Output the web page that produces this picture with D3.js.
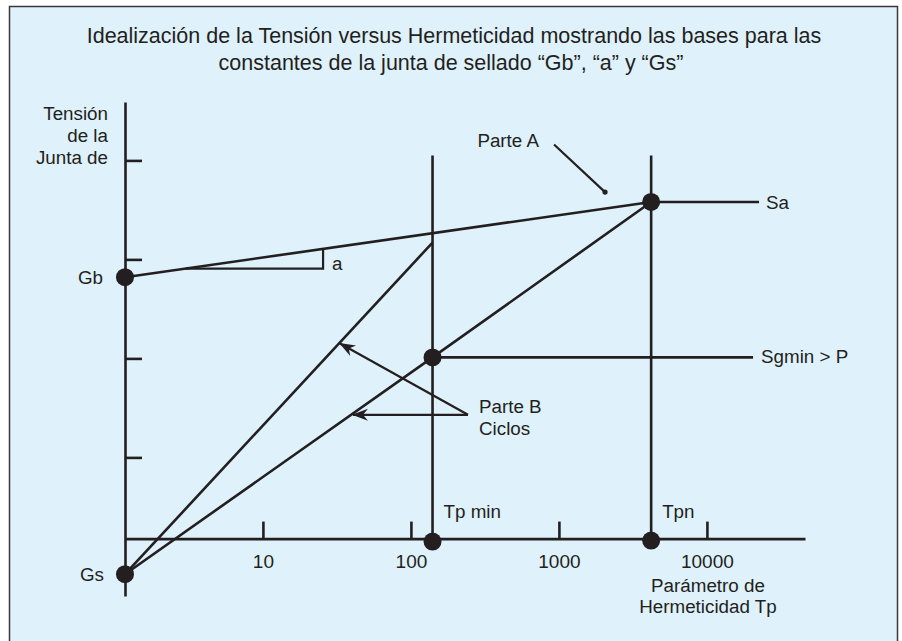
<!DOCTYPE html>
<html lang="es">
<head>
    <meta charset="UTF-8">
    <title>Tensión versus Hermeticidad</title>
    <script src="https://cdn.jsdelivr.net/npm/d3@7"></script>
    <style>
        body { margin: 0; background: #fff; }
        text { font-family: "Liberation Sans", Arial, sans-serif; fill: #231f20; }
    </style>
</head>
<body>
<script>
    // valores (Tp en escala log, tensión en unidades arbitrarias)
    const titleLines = ["Idealización de la Tensión versus Hermeticidad mostrando las bases para las",
        "constantes de la junta de sellado \u201cGb\u201d, \u201ca\u201d y \u201cGs\u201d"];
    const xTicks = [10, 100, 1000, 10000];
    const yTicks = [1, 2, 3, 4];
    const yLabel = ["Tensión", "de la", "Junta de"];
    const xLabel = ["Parámetro de", "Hermeticidad Tp"];

    const xMin = 1.17, xMax = 46000;
    const yMin = -0.4, yMax = 4.59;
    const axisY = 0.18;          // donde cruza el eje de Tp
    const tpMin = 140, tpn = 4200;
    const gb = 2.82, sa = 3.58, sgmin = 2.01, gs = -0.18;
    const vTop = 4.05;           // extremo superior de las verticales
    const saEnd = 22500, sgEnd = 20500;
    const cycleTop = [tpMin, 3.17];   // fin de la recta superior (Parte B)
    const slopeTri = [3, 25.5];       // triángulo de la pendiente "a"
    const parteA = [[927, 4.16], [2050, 3.68]];
    const arrowTail = [243, 1.43];
    const arrowTips = [[33.2, 2.15], [40.6, 1.43]];

    const W = 902, H = 641;
    const x = d3.scaleLog().domain([xMin, xMax]).range([125, 805]);
    const y = d3.scaleLinear().domain([yMin, yMax]).range([596, 102]);
    const ink = "#231f20";

    const svg = d3.select("body").append("svg")
        .attr("width", W).attr("height", H);

    svg.append("rect")
        .attr("x", 9.5).attr("y", 6.5)
        .attr("width", 888).attr("height", 640)
        .attr("fill", "#dff1fb")
        .attr("stroke", "#3a3a3a").attr("stroke-width", 1.5);

    svg.append("g")
        .attr("text-anchor", "middle")
        .attr("font-size", 21.5)
        .selectAll("text").data(titleLines).enter().append("text")
        .attr("x", (d, i) => i ? 451 : 454)
        .attr("y", (d, i) => 35 + i * 27)
        .attr("dy", "0.35em")
        .text(d => d);

    const defs = svg.append("defs");
    defs.append("marker")
        .attr("id", "head")
        .attr("viewBox", "-16 -7 18 14")
        .attr("markerWidth", 18).attr("markerHeight", 14)
        .attr("markerUnits", "userSpaceOnUse")
        .attr("orient", "auto")
        .append("path")
        .attr("d", "M1,0 L-15,-6 L-10,0 L-15,6 Z")
        .attr("fill", ink);

    // ejes
    const gx = svg.append("g")
        .attr("transform", `translate(0,${y(axisY)})`)
        .call(d3.axisBottom(x).tickValues(xTicks).tickFormat(d3.format("d"))
            .tickSizeInner(-17).tickSizeOuter(0).tickPadding(16));
    const gy = svg.append("g")
        .attr("transform", `translate(${x(xMin)},0)`)
        .call(d3.axisRight(y).tickValues(yTicks).tickFormat("")
            .tickSizeInner(17).tickSizeOuter(0));
    [gx, gy].forEach(g => {
        g.select(".domain").attr("stroke", ink).attr("stroke-width", 2.6);
        g.selectAll(".tick line").attr("stroke", ink).attr("stroke-width", 2.6);
    });
    gx.selectAll(".tick text").attr("font-size", 19).attr("fill", ink)
        .attr("font-family", "Liberation Sans, Arial, sans-serif");

    const line = d3.line().x(d => x(d[0])).y(d => y(d[1]));
    const lines = svg.append("g")
        .attr("fill", "none").attr("stroke", ink).attr("stroke-width", 2.6);

    const segs = [
        [[tpMin, axisY], [tpMin, vTop]],
        [[tpn, axisY], [tpn, vTop]],
        [[xMin, gb], [tpn, sa]],
        [[tpn, sa], [saEnd, sa]],
        [[tpMin, sgmin], [sgEnd, sgmin]],
        [[xMin, gs], [tpMin, sgmin], [tpn, sa]],
        [[xMin, gs], cycleTop]
    ];
    lines.selectAll("path.seg").data(segs).enter().append("path")
        .attr("class", "seg").attr("d", line);

    // triángulo de la pendiente, sobre la recta Gb–Sa
    const onGb = v => {
        const t = (x(v) - x(xMin)) / (x(tpn) - x(xMin));
        return y.invert(y(gb) + t * (y(sa) - y(gb)));
    };
    lines.append("path")
        .attr("stroke-width", 2.2)
        .attr("d", line([[slopeTri[0], onGb(slopeTri[0])], [slopeTri[1], onGb(slopeTri[0])], [slopeTri[1], onGb(slopeTri[1])]]));

    // indicador Parte A
    lines.append("path").attr("stroke-width", 2.2).attr("d", line(parteA));
    svg.append("circle")
        .attr("cx", x(parteA[1][0])).attr("cy", y(parteA[1][1]))
        .attr("r", 2.6).attr("fill", ink);

    // flechas Parte B
    lines.selectAll("path.arrow").data(arrowTips).enter().append("path")
        .attr("class", "arrow")
        .attr("stroke-width", 2.2)
        .attr("marker-end", "url(#head)")
        .attr("d", d => line([arrowTail, d]));

    const dots = [[xMin, gb], [tpn, sa], [tpMin, sgmin], [tpMin, axisY - 0.03], [tpn, axisY - 0.02], [xMin, gs]];
    svg.append("g").selectAll("circle").data(dots).enter().append("circle")
        .attr("cx", d => x(d[0])).attr("cy", d => y(d[1]))
        .attr("r", 9).attr("fill", ink);

    // textos
    const labels = [
        {t: "Gb", x: 103, y: y(gb), a: "end"},
        {t: "Gs", x: 104, y: y(gs), a: "end"},
        {t: "a", x: x(slopeTri[1]) + 9, y: 263, a: "start"},
        {t: "Sa", x: x(saEnd) + 7, y: y(sa), a: "start"},
        {t: "Sgmin > P", x: x(sgEnd) + 8, y: y(sgmin) - 1, a: "start"},
        {t: "Parte A", x: 539, y: 140, a: "end"},
        {t: "Parte B", x: 479, y: 406, a: "start"},
        {t: "Ciclos", x: 479, y: 428, a: "start"},
        {t: "Tp min", x: x(tpMin) + 11, y: 511, a: "start"},
        {t: "Tpn", x: x(tpn) + 11, y: 511, a: "start"}
    ];
    yLabel.forEach((t, i) => labels.push({t, x: 108, y: 113 + i * 22, a: "end"}));
    xLabel.forEach((t, i) => labels.push({t, x: 708, y: 585 + i * 21, a: "middle"}));

    svg.append("g").attr("font-size", 18.8)
        .selectAll("text").data(labels).enter().append("text")
        .attr("x", d => d.x).attr("y", d => d.y)
        .attr("dy", "0.35em")
        .attr("text-anchor", d => d.a)
        .text(d => d.t);
</script>
</body>
</html>
